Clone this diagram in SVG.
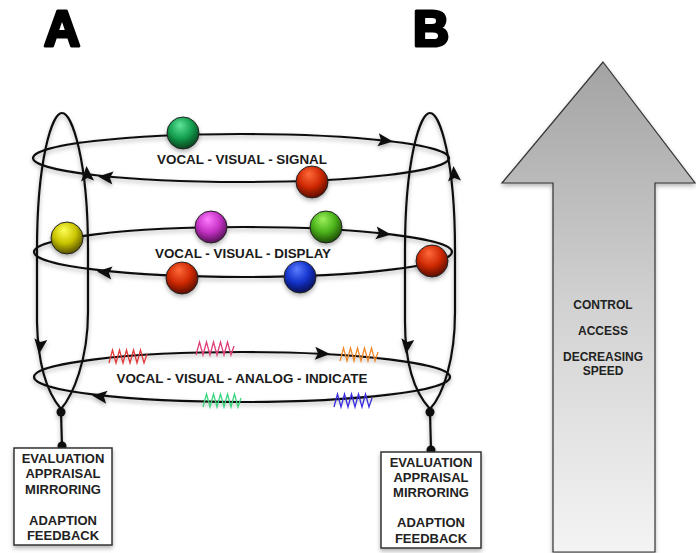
<svg xmlns="http://www.w3.org/2000/svg" width="696" height="553" viewBox="0 0 696 553">
<defs>
<style>
.ln{fill:none;stroke:#111;stroke-width:2.2}
.ah{fill:#111}
.lbl{font-family:"Liberation Sans",Arial,sans-serif;font-weight:bold;font-size:13.4px;fill:#1a1a1a;text-anchor:middle}
.big{font-family:"Liberation Sans",Arial,sans-serif;font-weight:bold;font-size:50px;fill:#000;stroke:#000;stroke-width:3.2;stroke-linejoin:round;text-anchor:middle}
.box{fill:#fff;stroke:#333;stroke-width:1.5}
.btx{font-family:"Liberation Sans",Arial,sans-serif;font-weight:bold;font-size:13px;fill:#222;text-anchor:middle}
.atx{font-family:"Liberation Sans",Arial,sans-serif;font-weight:bold;font-size:12px;fill:#222;text-anchor:middle}
.ball{stroke:#222;stroke-width:1}
.zz{fill:none;stroke-width:1.3}
</style>
<filter id="sh" x="-20%" y="-20%" width="140%" height="160%">
<feDropShadow dx="0" dy="2.5" stdDeviation="2" flood-color="#000" flood-opacity="0.3"/>
</filter>
<path id="arr" d="M0,0 L-15,-6.5 L-12,0 L-15,6.5 Z"/>
<path id="zz" d="M-19,6 L-15.5,-7 L-12,6 L-8.5,-7 L-5,6 L-1.5,-7 L2,6 L5.5,-7 L9,6 L12.5,-7 L16,6 L19,-3"/>
<radialGradient id="gGreen" cx="0.45" cy="0.35" r="0.65" fx="0.4" fy="0.25"><stop offset="0" stop-color="#5fe39a"/><stop offset="0.55" stop-color="#14a04f"/><stop offset="1" stop-color="#06401c"/></radialGradient>
<radialGradient id="gRed" cx="0.45" cy="0.35" r="0.65" fx="0.4" fy="0.25"><stop offset="0" stop-color="#ff6a3a"/><stop offset="0.55" stop-color="#d02a05"/><stop offset="1" stop-color="#5a0c00"/></radialGradient>
<radialGradient id="gYel" cx="0.45" cy="0.35" r="0.65" fx="0.4" fy="0.25"><stop offset="0" stop-color="#ffff55"/><stop offset="0.55" stop-color="#c9c400"/><stop offset="1" stop-color="#555000"/></radialGradient>
<radialGradient id="gMag" cx="0.45" cy="0.35" r="0.65" fx="0.4" fy="0.25"><stop offset="0" stop-color="#ff7cff"/><stop offset="0.55" stop-color="#c633c6"/><stop offset="1" stop-color="#551055"/></radialGradient>
<radialGradient id="gLime" cx="0.45" cy="0.35" r="0.65" fx="0.4" fy="0.25"><stop offset="0" stop-color="#9cf05a"/><stop offset="0.55" stop-color="#4cb41c"/><stop offset="1" stop-color="#1c4a06"/></radialGradient>
<radialGradient id="gBlue" cx="0.45" cy="0.35" r="0.65" fx="0.4" fy="0.25"><stop offset="0" stop-color="#5a7cff"/><stop offset="0.55" stop-color="#1535cc"/><stop offset="1" stop-color="#060f55"/></radialGradient>
<linearGradient id="gArrow" x1="0" y1="0" x2="0" y2="1"><stop offset="0" stop-color="#a3a3a3"/><stop offset="0.5" stop-color="#d2d2d2"/><stop offset="1" stop-color="#f4f4f4"/></linearGradient>
</defs>
<rect width="696" height="553" fill="#fff"/>

<g id="title-A"><text class="big" x="62" y="46">A</text></g>
<g id="title-B"><text class="big" x="431" y="46">B</text></g>

<g id="connectors" filter="url(#sh)">
<ellipse class="ln" cx="241" cy="158" rx="208" ry="24"/>
<ellipse class="ln" cx="243" cy="252" rx="209" ry="25"/>
<ellipse class="ln" cx="242" cy="377" rx="208" ry="25"/>
<path class="ln" d="M61,409 C50,396 38,372 37,322 L37,250 C37,160 52,113 62,113 C72,113 88,160 88,250 L88,312 C88,360 73,395 61,409"/>
<path class="ln" d="M430,409 C418,396 405,372 405,322 L405,250 C405,160 420,113 430,113 C440,113 455,160 455,250 L455,312 C455,360 443,395 430,409"/>
<line class="ln" x1="61" y1="412" x2="62" y2="446"/>
<line class="ln" x1="430" y1="412" x2="431" y2="450"/>
<circle cx="61" cy="412" r="4.5" fill="#111"/>
<circle cx="62" cy="446" r="4.5" fill="#111"/>
<circle cx="430" cy="412" r="4.5" fill="#111"/>
<circle cx="431" cy="450" r="4.5" fill="#111"/>
<use href="#arr" class="ah" transform="translate(393,141.5) rotate(6.5)"/>
<use href="#arr" class="ah" transform="translate(98,176.5) rotate(185.7)"/>
<use href="#arr" class="ah" transform="translate(391,234.5) rotate(6.2)"/>
<use href="#arr" class="ah" transform="translate(97,271.5) rotate(186)"/>
<use href="#arr" class="ah" transform="translate(330,354) rotate(2.9)"/>
<use href="#arr" class="ah" transform="translate(92,395.5) rotate(186.4)"/>
<use href="#arr" class="ah" transform="translate(86.5,166) rotate(-94)"/>
<use href="#arr" class="ah" transform="translate(39,354) rotate(97)"/>
<use href="#arr" class="ah" transform="translate(453.5,166) rotate(-94)"/>
<use href="#arr" class="ah" transform="translate(406,354) rotate(97)"/>
</g>

<g id="labels">
<text class="lbl" x="242" y="164">VOCAL - VISUAL - SIGNAL</text>
<text class="lbl" x="243" y="258">VOCAL - VISUAL - DISPLAY</text>
<text class="lbl" x="242" y="383">VOCAL - VISUAL - ANALOG - INDICATE</text>
</g>

<g id="balls" filter="url(#sh)">
<circle id="ball-green" class="ball" cx="183" cy="133" r="16" fill="url(#gGreen)"/>
<circle id="ball-red1" class="ball" cx="312" cy="182" r="16" fill="url(#gRed)"/>
<circle id="ball-yellow" class="ball" cx="67" cy="238" r="16" fill="url(#gYel)"/>
<circle id="ball-magenta" class="ball" cx="211" cy="227" r="16" fill="url(#gMag)"/>
<circle id="ball-lime" class="ball" cx="326" cy="227" r="16" fill="url(#gLime)"/>
<circle id="ball-red2" class="ball" cx="432" cy="261" r="16" fill="url(#gRed)"/>
<circle id="ball-red3" class="ball" cx="182" cy="278" r="16" fill="url(#gRed)"/>
<circle id="ball-blue" class="ball" cx="300" cy="277" r="16" fill="url(#gBlue)"/>
</g>

<g id="zigzags">
<use href="#zz" class="zz" stroke="#e23a3a" transform="translate(128,357)"/>
<use href="#zz" class="zz" stroke="#e0407a" transform="translate(215,349)"/>
<use href="#zz" class="zz" stroke="#f08a2a" transform="translate(359,355)"/>
<use href="#zz" class="zz" stroke="#3ad680" transform="translate(222,401)"/>
<use href="#zz" class="zz" stroke="#3a2ee0" transform="translate(353,401)"/>
</g>

<g id="box-A">
<rect class="box" x="14" y="448" width="98" height="97" filter="url(#sh)"/>
<text class="btx" x="63" y="463">EVALUATION</text>
<text class="btx" x="63" y="478">APPRAISAL</text>
<text class="btx" x="63" y="494">MIRRORING</text>
<text class="btx" x="63" y="525">ADAPTION</text>
<text class="btx" x="63" y="540">FEEDBACK</text>
</g>

<g id="box-B">
<rect class="box" x="381" y="452" width="100" height="96" filter="url(#sh)"/>
<text class="btx" x="431" y="467">EVALUATION</text>
<text class="btx" x="431" y="482">APPRAISAL</text>
<text class="btx" x="431" y="497">MIRRORING</text>
<text class="btx" x="431" y="527">ADAPTION</text>
<text class="btx" x="431" y="543">FEEDBACK</text>
</g>

<g id="big-arrow">
<polygon points="603,62 695,183 655,183 655,552 553,552 553,183 502,183" fill="url(#gArrow)" stroke="#333" stroke-width="1.2" filter="url(#sh)"/>
<text class="atx" x="603" y="309">CONTROL</text>
<text class="atx" x="603" y="335">ACCESS</text>
<text class="atx" x="603" y="361">DECREASING</text>
<text class="atx" x="603" y="375">SPEED</text>
</g>
</svg>
